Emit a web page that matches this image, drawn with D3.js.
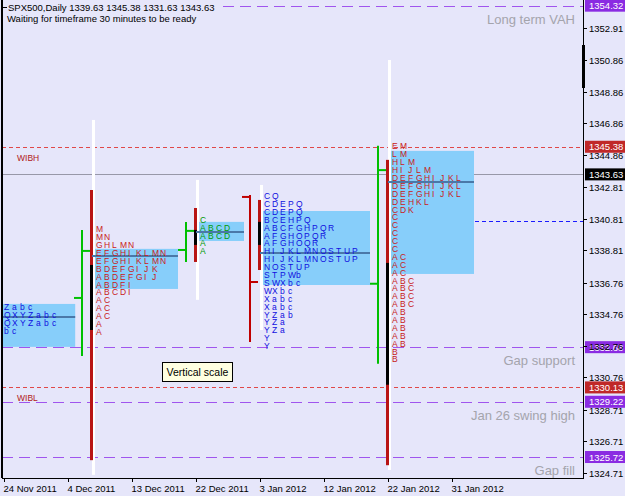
<!DOCTYPE html>
<html>
<head>
<meta charset="utf-8">
<script src="https://cdn.jsdelivr.net/npm/d3@7"></script>
<style>
  body { margin: 0; background: #e6e6fa; }
  text { font-family: "Liberation Sans", Arial, sans-serif; }
</style>
</head>
<body>
<div id="chart"></div>
<script>
// right axis ticks (MT4 style, uneven steps)
const priceTicks = [1352.91, 1350.86, 1348.86, 1346.86, 1344.86, 1342.81, 1340.81,
  1338.81, 1336.76, 1334.76, 1332.76, 1330.76, 1328.71, 1326.71, 1324.71];

// bottom axis: label every 8 bars
const dateLabels = ["24 Nov 2011", "4 Dec 2011", "13 Dec 2011", "22 Dec 2011",
  "3 Jan 2012", "12 Jan 2012", "22 Jan 2012", "31 Jan 2012"];
const dateBars = [0, 8, 16, 24, 32, 40, 48, 56];

// horizontal levels
const levelPrices = [1354.32, 1345.38, 1343.63, 1332.68, 1330.13, 1329.22, 1325.72];
const levelKinds = ["purple", "red", "price", "purple", "red", "purple", "purple"];
const levelNames = ["Long term VAH", "WIBH", "", "Gap support", "WIBL", "Jan 26 swing high", "Gap fill"];

// dashed blue line from the last profile
const openPocPrice = 1340.68;
const openPocBar = 51;

// market profiles (30 min letters, 0.5 pt rows)
const tpoSize = 0.5;
const profileBars = [-1.5, 11, 24, 32, 48];
const profileTops = [1335.2, 1340.15, 1340.75, 1342.25, 1345.4];
const profileRows = [
  ["YZabc", "PQXYZabc", "PQXYZabc", "abc"],
  ["M", "MN", "GHLMN", "EFGHIKLMN", "EFGHIKLMN", "BDEFGIJK", "ABDEFGIJ", "ABDFI", "ABCDI",
   "AC", "AC", "AC", "A", "A"],
  ["C", "ABCD", "ABCD", "A", "A"],
  ["CQ", "CDEPQ", "CDEPQ", "BCEHPQ", "ABCFGHPQR", "AFGHOPQR", "AFGHOQR", "HIJKLMNOSTUP",
   "HIJKLMNOSTUP", "NOSTUP", "STPWb", "SWXbc", "WXbc", "Xabc", "Xabc", "YZab", "YZa", "YZa", "Y", "Y"],
  ["EM", "LM", "HLM", "HIJLM", "DEFGHIJKL", "DEFGHIJKL", "DEFGHIJKL", "DEHKL", "CDK",
   "C", "C", "C", "C", "C", "AC", "AC", "AC", "ABC", "ABC", "ABC", "ABC",
   "AB", "AB", "AB", "AB", "AB", "B", "B"]
];
const vaHigh = [1335.42, 1338.91, 1340.62, 1341.31, 1345.12];
const vaLow = [1332.70, 1336.37, 1339.41, 1336.62, 1337.32];
const vaEndBars = [8.9, 21.75, 30, 45.75, 58.75];
const pocPrices = [1334.6, 1338.46, 1339.98, 1338.65, 1343.15];

// day range (red), initial balance (black), weekly range (white)
const rangeHigh = [null, 1342.64, 1341.5, 1342.01, 1344.55];
const rangeLow = [null, 1325.52, 1338.08, 1337.57, 1325.2];
const ibHigh = [null, 1337.89, 1340.11, 1340.62, 1338.02];
const ibLow = [null, 1333.77, 1339.16, 1339.16, 1330.3];
const weekHigh = [null, 1347.08, 1343.28, 1342.96, 1350.88];
const weekLow = [null, 1324.59, 1335.68, 1333.77, 1324.9];

// daily OHLC bars
const barIndex = [10, 23, 31, 47];
const barOpen = [1335.8, 1338.84, 1342.2, 1336.7];
const barHigh = [1340.11, 1340.62, 1342.33, 1345.45];
const barLow = [1332.12, 1338.08, 1333.01, 1331.63];
const barClose = [1338.78, 1340.05, 1336.81, 1343.9];

// styles
const letterColors = ["#1010e0", "#c82020", "#009a00", "#1010e0", "#c82020"];
const levelColors = { purple: "#8a2be2", red: "#c02828", price: "#000000" };

const W = 625, H = 496;
const plotL = 2, plotR = 583, plotB = 478;

const svg = d3.select("#chart").append("svg")
    .attr("width", W)
    .attr("height", H);

svg.append("rect").attr("width", W).attr("height", H).attr("fill", "#e6e6fa");

// scales: 8px per daily bar, ~15.8px per point
const x = d3.scaleLinear().domain([0, 56]).range([4, 452]);
const y = d3.scaleLinear().domain([1324.39, 1354.68]).range([plotB, 0]);

svg.append("clipPath").attr("id", "plot")
  .append("rect").attr("x", plotL + 1).attr("y", 0)
  .attr("width", plotR - plotL - 1).attr("height", plotB);

const plot = svg.append("g").attr("clip-path", "url(#plot)");

//level lines
levelPrices.forEach(function(p, i) {
    const kind = levelKinds[i];
    const line = plot.append("line")
        .attr("x1", plotL).attr("x2", plotR)
        .attr("y1", Math.round(y(p)) + 0.5).attr("y2", Math.round(y(p)) + 0.5);
    if (kind == "purple") {
        line.attr("stroke", "#a055ee").attr("stroke-dasharray", "11,6");
    } else if (kind == "red") {
        line.attr("stroke", "#e04848").attr("stroke-dasharray", "4,3");
    } else {
        line.attr("stroke", "#9898a8");
    }
});

// blue dashed line
plot.append("line")
    .attr("x1", x(openPocBar)).attr("x2", plotR)
    .attr("y1", Math.round(y(openPocPrice)) + 0.5).attr("y2", Math.round(y(openPocPrice)) + 0.5)
    .attr("stroke", "#1a1aff").attr("stroke-dasharray", "4,3");

// level captions
levelPrices.forEach(function(p, i) {
    if (levelKinds[i] == "purple") {
        plot.append("text")
            .attr("x", 575).attr("y", y(p) + 18)
            .attr("text-anchor", "end")
            .attr("font-size", 13)
            .attr("fill", "#a4a4ac")
            .text(levelNames[i]);
    } else if (levelKinds[i] == "red") {
        plot.append("text")
            .attr("x", 17).attr("y", y(p) + 14)
            .attr("font-size", 8.5)
            .attr("fill", "#b01818")
            .text(levelNames[i]);
    }
});

// value area boxes
profileBars.forEach(function(b, i) {
    plot.append("rect")
        .attr("x", x(b)).attr("y", y(vaHigh[i]))
        .attr("width", x(vaEndBars[i]) - x(b))
        .attr("height", y(vaLow[i]) - y(vaHigh[i]))
        .attr("fill", "#87cefa");
});

// weekly range (white)
profileBars.forEach(function(b, i) {
    if (weekHigh[i] == null) return;
    plot.append("rect")
        .attr("x", x(b)).attr("y", y(weekHigh[i]))
        .attr("width", 3).attr("height", y(weekLow[i]) - y(weekHigh[i]))
        .attr("fill", "#ffffff");
});

// day range red + black initial balance
profileBars.forEach(function(b, i) {
    if (rangeHigh[i] == null) return;
    plot.append("rect")
        .attr("x", x(b) - 2).attr("y", y(rangeHigh[i]))
        .attr("width", 3).attr("height", y(rangeLow[i]) - y(rangeHigh[i]))
        .attr("fill", "#b81414");
    plot.append("rect")
        .attr("x", x(b) - 2).attr("y", y(ibHigh[i]))
        .attr("width", 3).attr("height", y(ibLow[i]) - y(ibHigh[i]))
        .attr("fill", "#000000");
});

// OHLC bars
barIndex.forEach(function(b, i) {
    const up = barClose[i] >= barOpen[i];
    const col = up ? "#00c000" : "#c00000";
    const bx = Math.round(x(b)) - 2;
    const g = plot.append("g").attr("stroke", col).attr("stroke-width", 2);
    g.append("line").attr("x1", bx).attr("x2", bx)
        .attr("y1", y(barHigh[i])).attr("y2", y(barLow[i]));
    g.append("line").attr("x1", bx - 8).attr("x2", bx)
        .attr("y1", y(barOpen[i])).attr("y2", y(barOpen[i]));
    g.append("line").attr("x1", bx).attr("x2", bx + 8)
        .attr("y1", y(barClose[i])).attr("y2", y(barClose[i]));
});

// POC lines
profileBars.forEach(function(b, i) {
    plot.append("line")
        .attr("x1", x(b)).attr("x2", x(vaEndBars[i]))
        .attr("y1", y(pocPrices[i])).attr("y2", y(pocPrices[i]))
        .attr("stroke", "#4a78a8").attr("stroke-width", 2);
});

// TPO letters
profileBars.forEach(function(b, i) {
    const g = plot.append("g")
        .attr("fill", letterColors[i])
        .attr("font-size", 8.5);
    profileRows[i].forEach(function(row, r) {
        const py = y(profileTops[i] - r * tpoSize);
        row.split("").forEach(function(ch, c) {
            g.append("text")
                .attr("x", x(b + 0.5 + c))
                .attr("y", py + 3)
                .text(ch);
        });
    });
});

// frame
svg.append("line").attr("x1", plotL).attr("x2", plotL).attr("y1", 0).attr("y2", plotB)
    .attr("stroke", "#000").attr("stroke-width", 2);
svg.append("line").attr("x1", plotR + 0.5).attr("x2", plotR + 0.5).attr("y1", 0).attr("y2", plotB)
    .attr("stroke", "#000");
svg.append("line").attr("x1", plotL).attr("x2", plotR + 1).attr("y1", plotB + 0.5).attr("y2", plotB + 0.5)
    .attr("stroke", "#000");
svg.append("rect").attr("x", plotR - 1).attr("y", 45).attr("width", 3).attr("height", 43).attr("fill", "#000");

// level boxes on the right axis
levelPrices.forEach(function(p, i) {
    const ly = y(p);
    svg.append("rect")
        .attr("x", plotR + 2).attr("y", ly - 6)
        .attr("width", 40).attr("height", 12)
        .attr("fill", levelColors[levelKinds[i]]);
    svg.append("text")
        .attr("x", plotR + 6).attr("y", ly + 3.5)
        .attr("font-size", 9.5)
        .attr("fill", "#ffffff")
        .text(p.toFixed(2));
});

// right axis ticks
const yAxis = svg.append("g");
priceTicks.forEach(function(t) {
    const ty = Math.round(y(t)) + 0.5;
    yAxis.append("line").attr("x1", plotR).attr("x2", plotR + 4)
        .attr("y1", ty).attr("y2", ty).attr("stroke", "#000");
    yAxis.append("text")
        .attr("x", plotR + 6).attr("y", ty + 3.5)
        .attr("font-size", 9.5)
        .attr("fill", "#000")
        .text(t.toFixed(2));
});

// bottom axis
const xAxis = svg.append("g");
dateBars.forEach(function(b, i) {
    const tx = Math.round(x(b)) + 0.5;
    xAxis.append("line").attr("x1", tx).attr("x2", tx)
        .attr("y1", plotB).attr("y2", plotB + 4).attr("stroke", "#000");
    xAxis.append("text")
        .attr("x", tx - 1).attr("y", plotB + 14)
        .attr("font-size", 9.5)
        .attr("fill", "#000")
        .text(dateLabels[i]);
});

// header
const head = svg.append("g");
const hbg = head.append("rect").attr("fill", "#e6e6fa");
const t1 = head.append("text").attr("x", 8).attr("y", 11)
    .attr("font-size", 9.5).attr("fill", "#000")
    .text("SPX500,Daily  1339.63 1345.38 1331.63 1343.63");
head.append("text").attr("x", 7).attr("y", 22)
    .attr("font-size", 9.5).attr("fill", "#000")
    .text("Waiting for timeframe 30 minutes to be ready");
const bb = t1.node().getBBox();
hbg.attr("x", 3).attr("y", 0).attr("width", bb.x + bb.width + 2).attr("height", 12);
head.append("line").attr("x1", 2).attr("x2", 7).attr("y1", 7.5).attr("y2", 7.5).attr("stroke", "#000");

// tooltip
const tip = svg.append("g").attr("transform", "translate(162.5,362.5)");
tip.append("rect").attr("width", 70).attr("height", 19)
    .attr("fill", "#ffffe1").attr("stroke", "#000");
tip.append("text").attr("x", 4).attr("y", 13.5)
    .attr("font-size", 10.5).attr("fill", "#000")
    .text("Vertical scale");
</script>
</body>
</html>
